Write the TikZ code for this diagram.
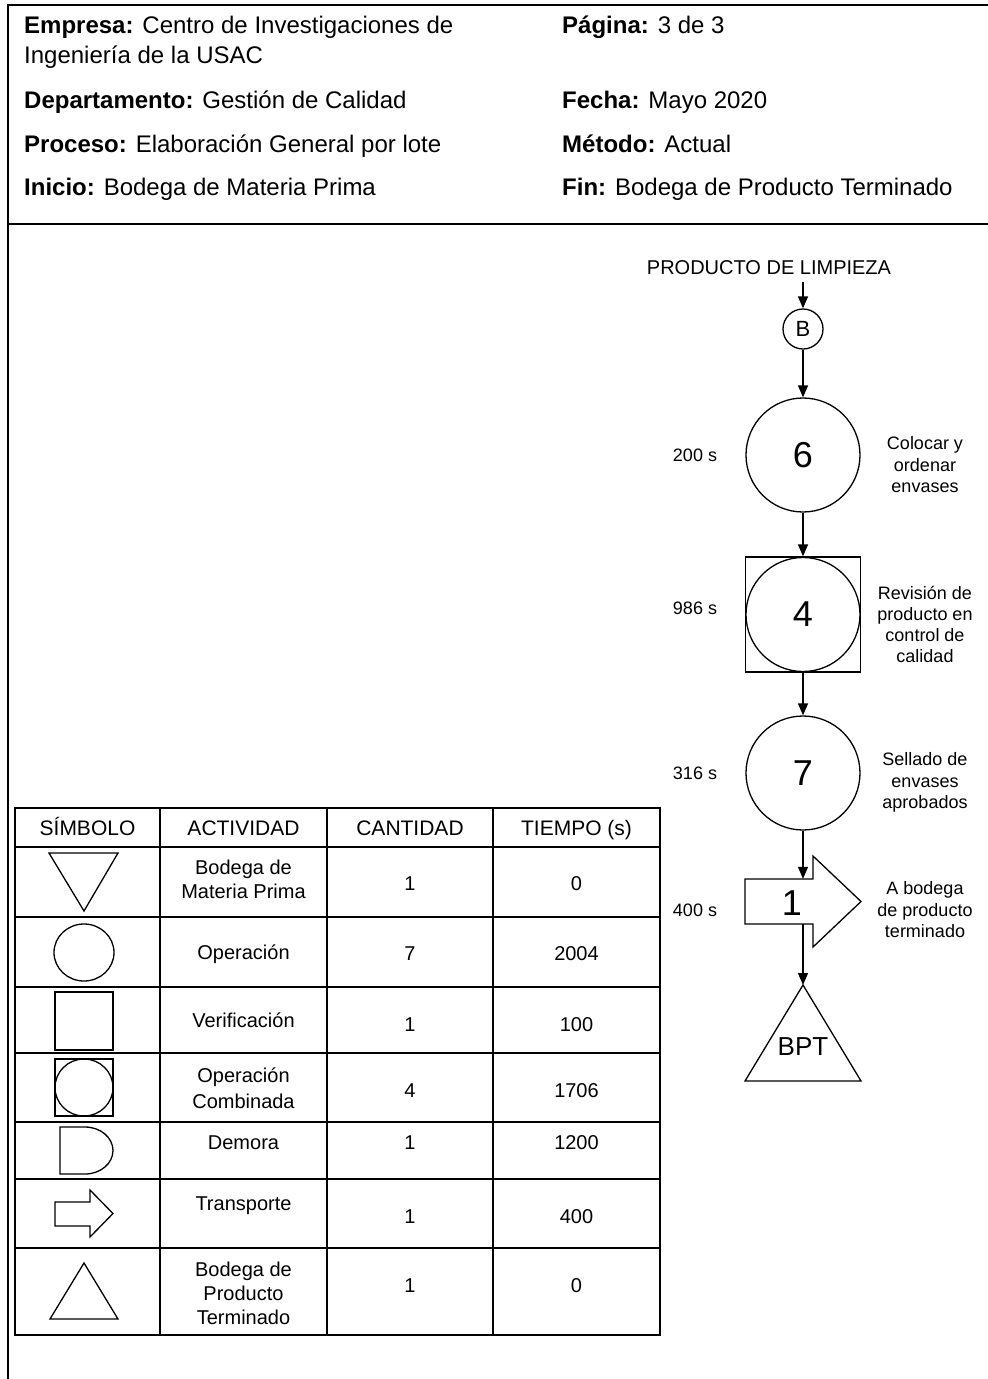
\documentclass[tikz,border=0pt]{standalone}
\usepackage{fontspec}
\setmainfont{Liberation Sans}
\usetikzlibrary{arrows.meta}

\newcommand\fz[2]{\fontsize{#1}{#2}\selectfont}

\begin{document}
\begin{tikzpicture}[x=1pt,y=-1pt,
  frame/.style={line width=2pt},
  grid/.style={line width=1.8pt},
  sym/.style={line width=1.3pt},
  flow/.style={line width=1.3pt},
  arr/.style={line width=1.3pt,-{Triangle[length=12pt,width=10pt]}},
  op/.style={circle,draw,line width=1.3pt,minimum size=114pt,inner sep=0pt,font=\fz{36}{36}},
  txt/.style={inner sep=0pt,anchor=base},
  hd/.style={inner sep=0pt,anchor=base west,font=\fz{24}{30},align=left},
  th/.style={txt,font=\fz{21}{25}},
  td/.style={txt,font=\fz{20}{24},align=center},
  side/.style={txt,font=\fz{18}{21.5},align=center},
]
\useasboundingbox (0,0) rectangle (988,1379);

% page frame and header separator
\draw[frame] (990,5) -- (8,5) -- (8,1381);
\draw[frame] (8,224) -- (990,224);

% header fields (multi-line nodes sit on their last baseline)
\node[hd] (empresa) at (24,63) {\textbf{Empresa:} Centro de Investigaciones de\\Ingeniería de la USAC};
\node[hd] (depto) at (24,108) {\textbf{Departamento:} Gestión de Calidad};
\node[hd] (proceso) at (24,152) {\textbf{Proceso:} Elaboración General por lote};
\node[hd] (inicio) at (24,195) {\textbf{Inicio:} Bodega de Materia Prima};
\node[hd] (pagina) at (562,33) {\textbf{Página:} 3 de 3};
\node[hd] (fecha) at (562,108) {\textbf{Fecha:} Mayo 2020};
\node[hd] (metodo) at (562,152) {\textbf{Método:} Actual};
\node[hd] (fin) at (562,195) {\textbf{Fin:} Bodega de Producto Terminado};

% process flow
\node[txt,font=\fz{20}{24}] (prod) at (769,274) {PRODUCTO DE LIMPIEZA};
\node[circle,draw,flow,minimum size=40pt,inner sep=0pt,font=\fz{22}{22}] (B) at (803,329) {B};
\node[op] (c6) at (803,455) {6};
\node[draw,flow,minimum size=115pt,inner sep=0pt] (c4) at (803,614.5) {};
\node[op] (c4c) at (803,614.5) {4};
\node[op] (c7) at (803,773) {7};
\node[minimum width=116pt,minimum height=45pt,inner sep=0pt] (tr) at (803,901.5) {};
\draw[flow] (745,879) -- (813,879) -- (813,856) -- (861,901.5) -- (813,947) -- (813,924) -- (745,924) -- cycle;
\node[txt,font=\fz{36}{36}] (t1) at (792,915) {1};
\coordinate (bpttop) at (803,985);
\draw[flow] (bpttop) -- (861,1081) -- (745,1081) -- cycle;
\node[inner sep=0pt,font=\fz{26}{26}] (bpt) at (803,1047) {BPT};

\draw[arr,shorten <=8pt] (prod.south -| B.north) -- (B.north);
\draw[arr] (B) -- (c6);
\draw[arr] (c6) -- (c4);
\draw[arr] (c4) -- (c7);
\draw[arr] (c7) -- (tr);
\draw[arr] (tr) -- (bpttop);

% times
\node[side] (tm6) at (695,461.5) {200 s};
\node[side] (tm4) at (695,614.5) {986 s};
\node[side] (tm7) at (695,779.5) {316 s};
\node[side] (tmt) at (695,916.5) {400 s};

% descriptions
\node[side] (d6) at (925,492.5) {Colocar y\\ordenar\\envases};
\node[side,font=\fz{18}{21}] (d4) at (925,662.5) {Revisión de\\producto en\\control de\\calidad};
\node[side] (d7) at (925,808.5) {Sellado de\\envases\\aprobados};
\node[side] (dt) at (925,937.5) {A bodega\\de producto\\terminado};

% summary table
\draw[grid] (15,808) rectangle (660,1335);
\foreach \yy in {847,917,987,1053,1122,1179,1248}
  \draw[grid] (15,\yy) -- (660,\yy);
\foreach \xx in {160,327,493}
  \draw[grid] (\xx,808) -- (\xx,1335);

\node[th] (hS) at (87.5,835) {SÍMBOLO};
\node[th] (hA) at (243.5,835) {ACTIVIDAD};
\node[th] (hC) at (410,835) {CANTIDAD};
\node[th] (hT) at (576.5,835) {TIEMPO (s)};

% symbols
\draw[sym] (49,853) -- (118,853) -- (84,911) -- cycle;
\draw[sym] (84,952.5) ellipse [x radius=30pt,y radius=28.5pt];
\draw[sym] (55,992) rectangle (113,1050);
\draw[sym] (55,1059) rectangle (113,1116);
\draw[sym] (84,1087.5) ellipse [x radius=29pt,y radius=28.5pt];
\draw[sym] (60,1127) -- (85,1127) arc[start angle=90,end angle=-90,x radius=28pt,y radius=23.5pt] -- (60,1174) -- cycle;
\draw[sym] (55,1202) -- (90,1202) -- (90,1190) -- (113,1213.5) -- (90,1237) -- (90,1226) -- (55,1226) -- cycle;
\draw[sym] (84,1263) -- (118,1319) -- (50,1319) -- cycle;

% activities, quantities, times
\node[td] (a1) at (243.5,898) {Bodega de\\Materia Prima};
\node[td] (q1) at (410,890) {1};
\node[td] (s1) at (576.5,890) {0};
\node[td] (a2) at (243.5,959) {Operación};
\node[td] (q2) at (410,960) {7};
\node[td] (s2) at (576.5,960) {2004};
\node[td] (a3) at (243.5,1027) {Verificación};
\node[td] (q3) at (410,1031) {1};
\node[td] (s3) at (576.5,1031) {100};
\node[td,font=\fz{20}{26}] (a4) at (243.5,1108) {Operación\\Combinada};
\node[td] (q4) at (410,1097) {4};
\node[td] (s4) at (576.5,1097) {1706};
\node[td] (a5) at (243.5,1149) {Demora};
\node[td] (q5) at (410,1149) {1};
\node[td] (s5) at (576.5,1149) {1200};
\node[td] (a6) at (243.5,1210) {Transporte};
\node[td] (q6) at (410,1223) {1};
\node[td] (s6) at (576.5,1223) {400};
\node[td] (a7) at (243.5,1324) {Bodega de\\Producto\\Terminado};
\node[td] (q7) at (410,1292) {1};
\node[td] (s7) at (576.5,1292) {0};
\end{tikzpicture}
\end{document}
